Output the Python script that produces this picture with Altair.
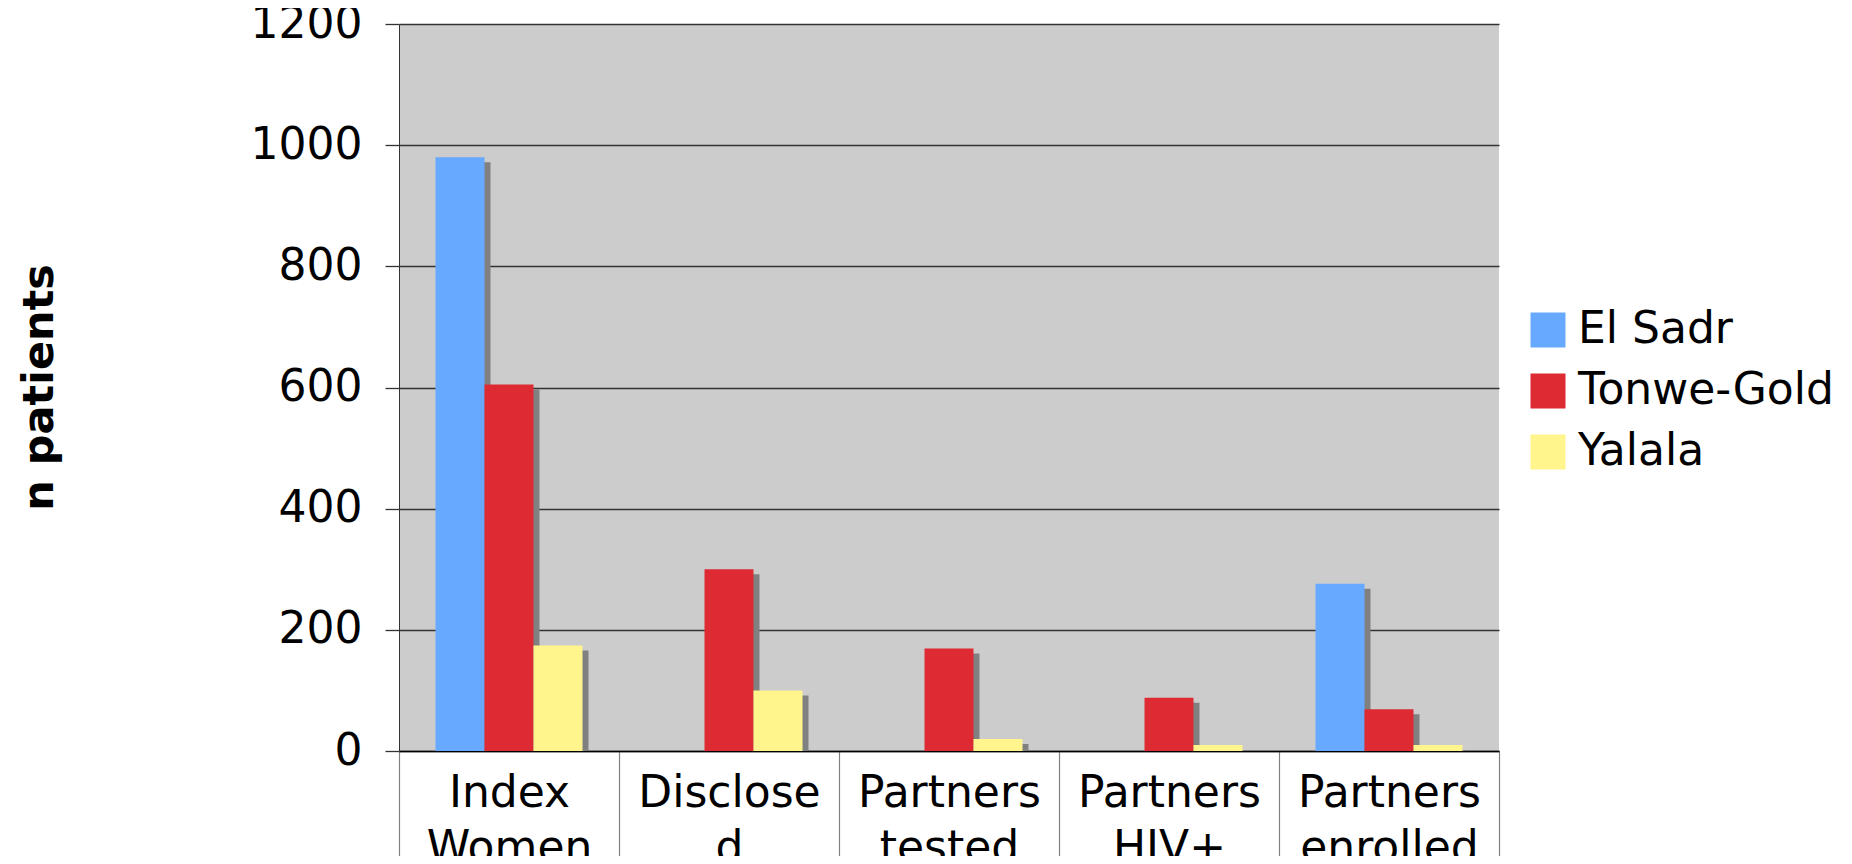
import altair as alt
import pandas as pd

categories = ["Index Women", "Disclosed", "Partners tested", "Partners HIV+", "Partners enrolled"]
series = ["El Sadr", "Tonwe-Gold", "Yalala"]
el_sadr = [980, 0, 0, 0, 276]
tonwe_gold = [605, 300, 169, 88, 69]
yalala = [174, 100, 20, 10, 10]
colors = ["#66A9FF", "#DD2A33", "#FFF58C"]

rows = []
for name, vals in zip(series, [el_sadr, tonwe_gold, yalala]):
    for c, v in zip(categories, vals):
        rows.append({"category": c, "series": name, "value": v})
df = pd.DataFrame(rows)

FONT = "DejaVu Sans"

x = alt.X("category:N", sort=categories, title=None,
          scale=alt.Scale(paddingInner=0, paddingOuter=0),
          axis=alt.Axis(labelAngle=0, labelFontSize=44, labelFont=FONT, labelColor="black",
                        labelLineHeight=55, labelBaseline="top", labelLimit=0,
                        labelExpr="datum.label == 'Disclosed' ? ['Disclose', 'd'] : split(datum.label, ' ')",
                        tickBand="extent", tickSize=120, tickColor="#808080", tickWidth=1.2,
                        labelPadding=-100, domainColor="black", domainWidth=1.5,
                        grid=False))
xo_main = alt.XOffset("series:N", sort=series, scale=alt.Scale(paddingOuter=0.745, paddingInner=0))
xo_shadow = alt.XOffset("series:N", sort=series,
                        scale=alt.Scale(paddingOuter=0.745, paddingInner=0, range=[6, 226]))
y = alt.Y("value:Q", title="n patients",
          scale=alt.Scale(domain=[0, 1200], nice=False),
          axis=alt.Axis(values=[0, 200, 400, 600, 800, 1000, 1200], format="d", labelFontSize=44,
                        labelFont=FONT, labelLimit=0,
                        labelColor="black", labelPadding=23, tickSize=14, tickColor="#333333",
                        tickWidth=1.3, gridColor="#333333", gridWidth=1.3, domainColor="#333333",
                        domainWidth=1, titleFont=FONT, titleFontSize=43, titleFontWeight="bold",
                        titleColor="black", titleX=-360, titleY=363, titleAlign="center",
                        titleBaseline="middle"))

base = alt.Chart(df)
shadow = base.mark_bar(color="#808080", yOffset=5, clip=True).encode(x=x, xOffset=xo_shadow, y=y)
bars = base.mark_bar().encode(
    x=x, xOffset=xo_main, y=y,
    color=alt.Color("series:N", sort=series,
                    scale=alt.Scale(domain=series, range=colors),
                    legend=alt.Legend(title=None, orient="none", legendX=1127, legendY=284,
                                      symbolType="square", symbolSize=1225, symbolStrokeWidth=0,
                                      labelFontSize=44, labelFont=FONT, labelColor="black",
                                      labelLimit=0, labelOffset=8, rowPadding=17)))

chart = alt.layer(shadow, bars).resolve_scale(xOffset="independent").properties(
    width=1100, height=727,
    autosize=alt.AutoSizeParams(type="none"),
    padding={"left": 391, "top": 16, "right": 345, "bottom": 105},
).configure_view(fill="#CCCCCC", stroke=None)

chart.save("out.html", embed_options={"renderer": "svg", "actions": False})
